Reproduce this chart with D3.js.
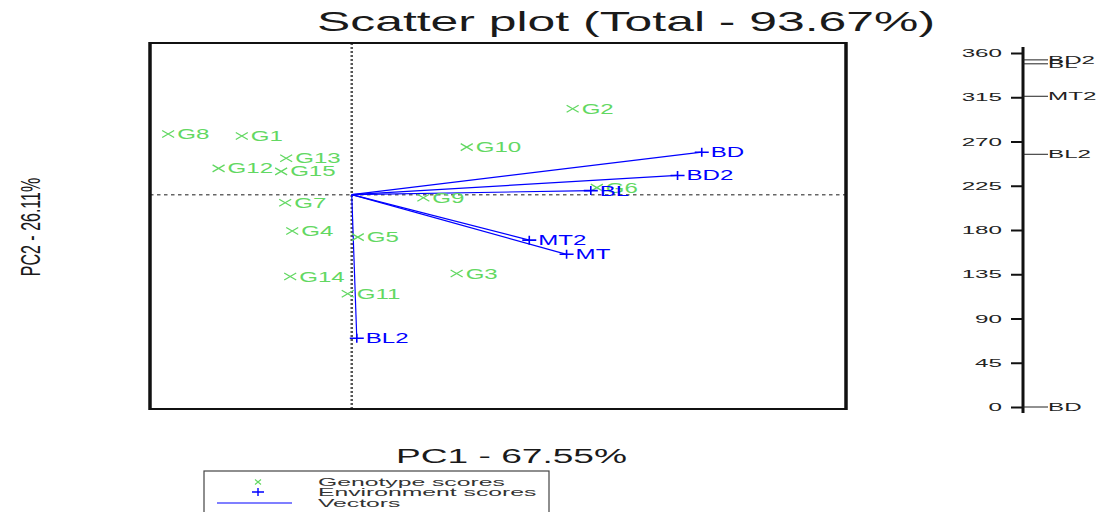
<!DOCTYPE html>
<html>
<head>
<meta charset="utf-8">
<script src="https://cdn.jsdelivr.net/npm/d3@7"></script>
<style>
  body { margin: 0; background: #fff; }
  text { font-family: "Liberation Sans", Arial, sans-serif; }
</style>
</head>
<body>
<div id="chart"></div>
<script>
// genotype scores (PC1, PC2)
const genotypes = ['G1', 'G2', 'G3', 'G4', 'G5', 'G6', 'G7', 'G8', 'G9', 'G10', 'G11', 'G12', 'G13', 'G14', 'G15'];
const genoPC1 = [-1.09, 2.19, 1.04, -0.59, 0.06, 2.43, -0.66, -1.82, 0.71, 1.14, -0.04, -1.32, -0.65, -0.61, -0.70];
const genoPC2 = [0.58, 0.85, -0.78, -0.36, -0.42, 0.07, -0.08, 0.60, -0.03, 0.47, -0.98, 0.26, 0.36, -0.81, 0.23];

// environment scores (PC1, PC2)
const environments = ['BD', 'BD2', 'BL', 'MT2', 'MT', 'BL2'];
const envPC1 = [3.47, 3.23, 2.37, 1.76, 2.13, 0.05];
const envPC2 = [0.42, 0.19, 0.04, -0.45, -0.59, -1.42];

// side scale (angles)
const angleTicks = [0, 45, 90, 135, 180, 225, 270, 315, 360];
const angleLabels = ['BD2', 'BL', 'MT2', 'BL2', 'BD'];
const angleValues = [353, 349, 316, 257, 0];

const title = 'Scatter plot (Total - 93.67%)';
const xTitle = 'PC1 - 67.55%';
const yTitle = 'PC2 - 26.11%';
const legendItems = ['Genotype scores', 'Environment scores', 'Vectors'];

const width = 1100, height = 512;
const green = '#62d862', blue = '#0000ff';

const svg = d3.select('#chart').append('svg')
  .attr('width', width)
  .attr('height', height);

svg.append('rect').attr('width', width).attr('height', height).attr('fill', '#fff');

// plot region
const pLeft = 150, pRight = 846, pTop = 43, pBottom = 409;

const x = d3.scaleLinear().domain([-2.0, 4.9]).range([pLeft, pRight]);
const y = d3.scaleLinear().domain([-2.12, 1.5]).range([pBottom, pTop]);

// stretched text helper (the picture is wide)
function stretched(sel, px, py, sx) {
  return sel.attr('transform', `translate(${px},${py}) scale(${sx},1)`);
}

// reference lines through origin
svg.append('line')
  .attr('x1', x(0)).attr('x2', x(0)).attr('y1', pTop).attr('y2', pBottom)
  .attr('stroke', '#555').attr('stroke-width', 2.5).attr('stroke-dasharray', '2,2');
svg.append('line')
  .attr('x1', pLeft).attr('x2', pRight).attr('y1', y(0)).attr('y2', y(0))
  .attr('stroke', '#666').attr('stroke-width', 1.5).attr('stroke-dasharray', '3.5,3.5');

// vectors
svg.append('g').selectAll('line')
  .data(environments)
  .join('line')
  .attr('x1', x(0)).attr('y1', y(0))
  .attr('x2', (d, i) => x(envPC1[i]))
  .attr('y2', (d, i) => y(envPC2[i]))
  .attr('stroke', blue).attr('stroke-width', 1.2);

// genotype markers + labels
const gG = svg.append('g');
genotypes.forEach((g, i) => {
  const px = x(genoPC1[i]), py = y(genoPC2[i]);
  gG.append('path')
    .attr('d', `M${px - 6},${py - 3.5}L${px + 6},${py + 3.5}M${px - 6},${py + 3.5}L${px + 6},${py - 3.5}`)
    .attr('stroke', green).attr('stroke-width', 1.3).attr('fill', 'none');
  stretched(gG.append('text'), px + 9, py + 5, 1.72)
    .attr('font-size', 14).attr('fill', green).text(g);
});

// environment markers + labels
const gE = svg.append('g');
environments.forEach((e, i) => {
  const px = x(envPC1[i]), py = y(envPC2[i]);
  gE.append('path')
    .attr('d', `M${px - 7},${py}L${px + 7},${py}M${px},${py - 4.5}L${px},${py + 4.5}`)
    .attr('stroke', blue).attr('stroke-width', 1.6).attr('fill', 'none');
  stretched(gE.append('text'), px + 9, py + 5, 1.72)
    .attr('font-size', 14).attr('fill', blue).text(e);
});

// frame
svg.append('line').attr('x1', pLeft).attr('x2', pRight).attr('y1', pTop).attr('y2', pTop)
  .attr('stroke', '#111').attr('stroke-width', 2);
svg.append('line').attr('x1', pLeft).attr('x2', pRight).attr('y1', pBottom).attr('y2', pBottom)
  .attr('stroke', '#111').attr('stroke-width', 2);
svg.append('line').attr('x1', pLeft).attr('x2', pLeft).attr('y1', pTop - 1).attr('y2', pBottom + 1)
  .attr('stroke', '#111').attr('stroke-width', 3.5);
svg.append('line').attr('x1', pRight).attr('x2', pRight).attr('y1', pTop - 1).attr('y2', pBottom + 1)
  .attr('stroke', '#111').attr('stroke-width', 3.5);

// titles
svg.append('text')
  .attr('x', 317).attr('y', 31)
  .attr('font-size', 28)
  .attr('textLength', 618).attr('lengthAdjust', 'spacingAndGlyphs')
  .attr('fill', '#1a1a1a').text(title);
svg.append('text')
  .attr('x', 396).attr('y', 463)
  .attr('font-size', 20)
  .attr('textLength', 231).attr('lengthAdjust', 'spacingAndGlyphs')
  .attr('fill', '#1a1a1a').text(xTitle);
svg.append('text')
  .attr('transform', 'translate(40,227) scale(1.7,1) rotate(-90)')
  .attr('text-anchor', 'middle')
  .attr('font-size', 16)
  .attr('fill', '#1a1a1a').text(yTitle);

// side angle axis
const a = d3.scaleLinear().domain([0, 360]).range([407, 53]);
const axisX = 1023;
const axisG = svg.append('g')
  .attr('transform', `translate(${axisX},0)`)
  .call(d3.axisLeft(a).tickValues(angleTicks).tickSize(12).tickPadding(0).tickFormat(d3.format('d')));
axisG.select('.domain').remove();
axisG.selectAll('.tick line').attr('stroke', '#111').attr('stroke-width', 2);
axisG.selectAll('.tick text')
  .attr('x', -21 / 2.2)
  .attr('transform', 'scale(2.2,1)')
  .attr('font-size', 11)
  .attr('fill', '#222')
  .attr('font-family', '"Liberation Sans", Arial, sans-serif');
svg.append('line')
  .attr('x1', axisX).attr('x2', axisX).attr('y1', 47).attr('y2', 413)
  .attr('stroke', '#111').attr('stroke-width', 3);

const sideG = svg.append('g');
angleLabels.forEach((lab, i) => {
  const py = a(angleValues[i]);
  sideG.append('line')
    .attr('x1', axisX).attr('x2', axisX + 25).attr('y1', py).attr('y2', py)
    .attr('stroke', '#222').attr('stroke-width', 1);
  stretched(sideG.append('text'), axisX + 25, py + 4, 2.2)
    .attr('font-size', 11).attr('fill', '#222').text(lab);
});

// legend
const lg = svg.append('g');
lg.append('rect')
  .attr('x', 204).attr('y', 471).attr('width', 345).attr('height', 50)
  .attr('fill', '#fff').attr('stroke', '#444').attr('stroke-width', 1.2);
const rowY = [482, 492, 503];
lg.append('path')
  .attr('d', `M255,${rowY[0] - 2.5}L261,${rowY[0] + 2.5}M255,${rowY[0] + 2.5}L261,${rowY[0] - 2.5}`)
  .attr('stroke', green).attr('stroke-width', 1.1);
lg.append('path')
  .attr('d', `M252,${rowY[1]}L264,${rowY[1]}M258,${rowY[1] - 4}L258,${rowY[1] + 4}`)
  .attr('stroke', blue).attr('stroke-width', 1.4);
lg.append('line')
  .attr('x1', 217).attr('x2', 292).attr('y1', rowY[2]).attr('y2', rowY[2])
  .attr('stroke', blue).attr('stroke-width', 1.2);
legendItems.forEach((t, i) => {
  stretched(lg.append('text'), 318, rowY[i] + 4, 2.15)
    .attr('font-size', 11.5).attr('fill', '#333').text(t);
});
</script>
</body>
</html>
